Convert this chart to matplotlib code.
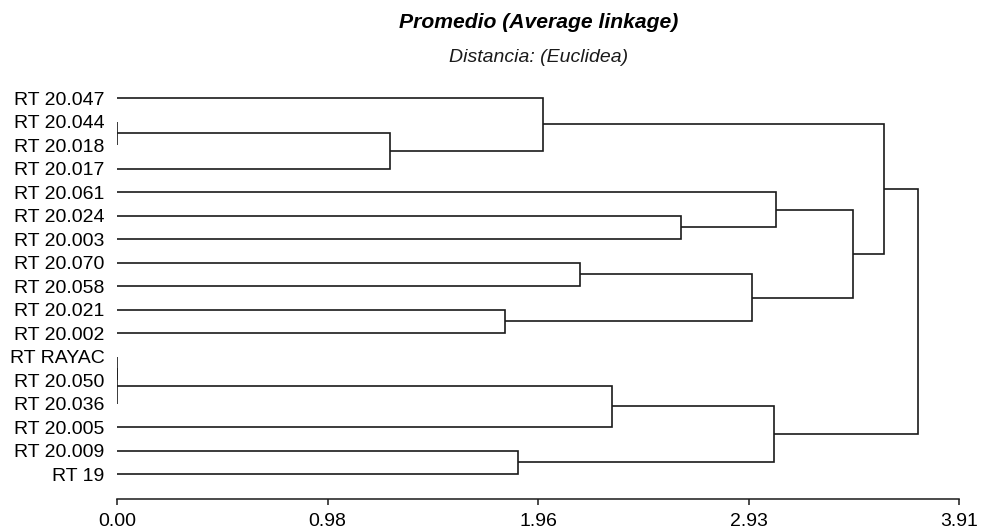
#!/usr/bin/env python3
"""Dendrogram (average linkage, euclidean distance) drawn by hand from a linkage table."""

import matplotlib

matplotlib.use("Agg")
import matplotlib.pyplot as plt

plt.rcParams["font.family"] = ["Liberation Sans", "DejaVu Sans"]

LEAVES = [
    "RT 20.047", "RT 20.044", "RT 20.018", "RT 20.017", "RT 20.061",
    "RT 20.024", "RT 20.003", "RT 20.070", "RT 20.058", "RT 20.021",
    "RT 20.002", "RT RAYAC", "RT 20.050", "RT 20.036", "RT 20.005",
    "RT 20.009", "RT 19",
]

# linkage rows: node ids 0..16 are leaves, merge k creates node 17 + k
MERGE_LEFT = [1, 11, 18, 17, 9, 15, 0, 7, 19, 5, 24, 25, 4, 29, 23, 31]
MERGE_RIGHT = [2, 12, 13, 3, 10, 16, 20, 8, 14, 6, 21, 22, 26, 27, 30, 28]
MERGE_HEIGHT = [0.00, 0.00, 0.00, 1.27, 1.80, 1.86, 1.98, 2.15, 2.30, 2.62,
                2.95, 3.05, 3.06, 3.42, 3.56, 3.72]

X_TICKS = [0.0, 0.9775, 1.955, 2.9325, 3.91]
X_TICK_LABELS = ["0.00", "0.98", "1.96", "2.93", "3.91"]

LINE = "#1a1a1a"


def main() -> None:
    fig = plt.figure(figsize=(9.85, 5.32), dpi=100)
    ax = fig.add_axes([0.1188, 0.0620, 0.8548, 0.7782])

    ypos = {i: float(i) for i in range(len(LEAVES))}
    xpos = {i: 0.0 for i in range(len(LEAVES))}

    for k, (a, b, h) in enumerate(zip(MERGE_LEFT, MERGE_RIGHT, MERGE_HEIGHT)):
        ya, yb = ypos[a], ypos[b]
        ax.plot([xpos[a], h, h, xpos[b]], [ya, ya, yb, yb],
                color=LINE, lw=1.2, solid_capstyle="butt", solid_joinstyle="miter")
        node = len(LEAVES) + k
        ypos[node] = (ya + yb) / 2
        xpos[node] = h

    ax.set_xlim(0, 3.91)
    ax.set_ylim(17.064, -0.553)

    ax.set_yticks(range(len(LEAVES)))
    ax.set_yticklabels(LEAVES, fontsize=14)
    ax.tick_params(axis="y", length=0, pad=9)

    ax.set_xticks(X_TICKS)
    ax.set_xticklabels(X_TICK_LABELS, fontsize=14)
    ax.tick_params(axis="x", length=4.5, width=1.1, pad=5.5, color=LINE)

    for side in ("top", "right", "left"):
        ax.spines[side].set_visible(False)
    ax.spines["bottom"].set_bounds(0, 3.91)
    ax.spines["bottom"].set_linewidth(1.1)
    ax.spines["bottom"].set_color(LINE)

    cx = 539 / 985
    fig.text(cx, 1 - 23 / 532, "Promedio (Average linkage)", ha="center", va="center",
             fontsize=15.2, fontweight="bold", fontstyle="italic")
    fig.text(cx, 1 - 58 / 532, "Distancia: (Euclidea)", ha="center", va="center",
             fontsize=14, fontstyle="italic", color="#1a1a1a")

    fig.savefig("out.png", dpi=100)


if __name__ == "__main__":
    main()
